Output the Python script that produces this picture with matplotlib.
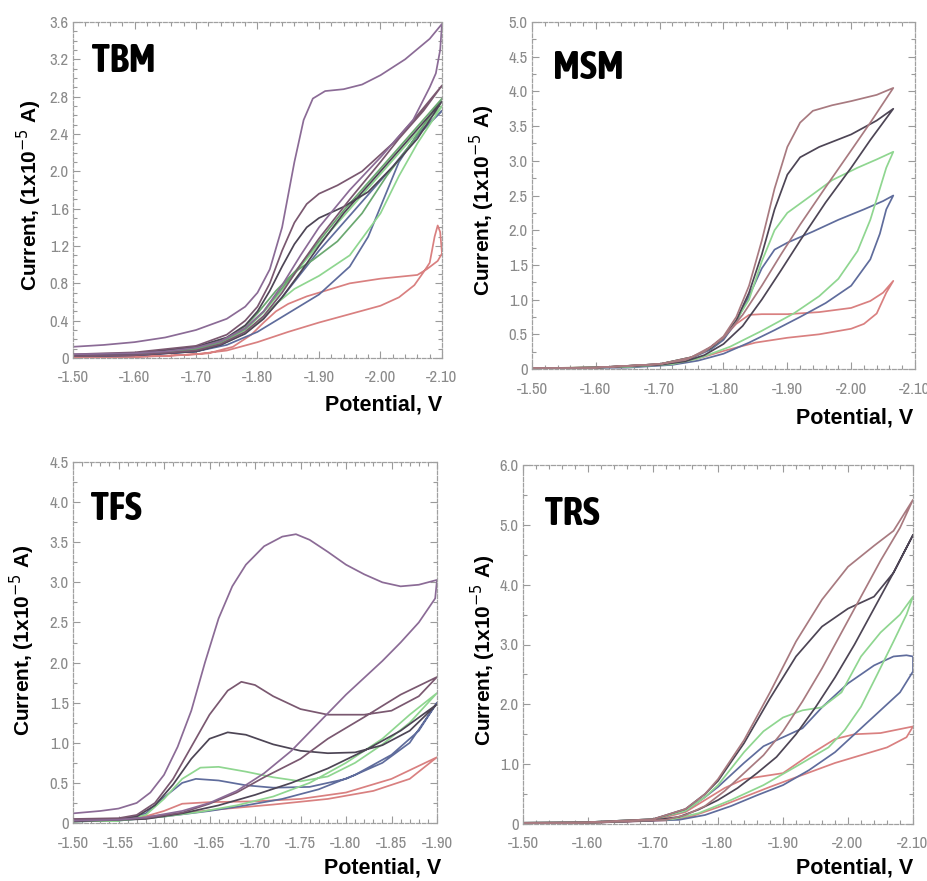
import matplotlib
matplotlib.use('Agg')
import matplotlib.pyplot as plt
from matplotlib.ticker import MultipleLocator

W, H = 928, 881

# ---- colours of the scan traces
PURPLE = '#8b6b96'
PLUM = '#7a5870'
DARK = '#4d4555'
GREEN = '#8fd690'
GREEN2 = '#6aa870'
BLUE = '#5f6c9c'
RED = '#d98080'
BROWN = '#a87a80'

# ---- TBM (forward sweep then reverse sweep, potential in V, current in 1e-5 A)
tbm_purple_v = [-1.50, -1.55, -1.60, -1.65, -1.70, -1.75, -1.78, -1.80, -1.82, -1.84, -1.86, -1.875, -1.89,
                -1.91, -1.94, -1.97, -2.00, -2.04, -2.08, -2.10,
                -2.097, -2.09, -2.08, -2.053, -2.00, -1.95, -1.90, -1.87, -1.84, -1.81, -1.78, -1.74,
                -1.70, -1.65, -1.60, -1.50]
tbm_purple_i = [0.12, 0.14, 0.17, 0.22, 0.30, 0.42, 0.55, 0.70, 0.95, 1.40, 2.10, 2.55, 2.78,
                2.86, 2.88, 2.93, 3.03, 3.20, 3.42, 3.58,
                3.30, 3.05, 2.90, 2.55, 2.15, 1.80, 1.40, 1.10, 0.78, 0.50, 0.32, 0.18,
                0.11, 0.07, 0.05, 0.04]
tbm_plum_v = [-1.50, -1.60, -1.70, -1.75, -1.78, -1.80, -1.82, -1.84, -1.86, -1.88, -1.90, -1.93, -1.97,
              -2.02, -2.06, -2.10,
              -2.07, -2.03, -2.00, -1.95, -1.90, -1.87, -1.84, -1.81, -1.78, -1.74, -1.70, -1.60, -1.50]
tbm_plum_i = [0.04, 0.06, 0.13, 0.25, 0.40, 0.55, 0.80, 1.15, 1.45, 1.65, 1.76, 1.85, 2.00,
              2.30, 2.60, 2.92,
              2.65, 2.35, 2.10, 1.70, 1.28, 1.00, 0.70, 0.45, 0.28, 0.15, 0.08, 0.03, 0.02]
tbm_dark_v = [-1.50, -1.60, -1.70, -1.75, -1.78, -1.80, -1.82, -1.84, -1.86, -1.88, -1.90, -1.94, -1.98,
              -2.02, -2.06, -2.10,
              -2.06, -2.02, -1.98, -1.94, -1.90, -1.87, -1.84, -1.81, -1.78, -1.74, -1.70, -1.60, -1.50]
tbm_dark_i = [0.03, 0.05, 0.12, 0.22, 0.35, 0.50, 0.72, 0.98, 1.22, 1.40, 1.50, 1.62, 1.78,
              2.05, 2.35, 2.75,
              2.45, 2.15, 1.85, 1.55, 1.20, 0.92, 0.65, 0.42, 0.26, 0.14, 0.07, 0.03, 0.02]
tbm_green_v = [-1.50, -1.60, -1.70, -1.75, -1.78, -1.80, -1.83, -1.86, -1.90, -1.95, -2.00, -2.03, -2.06,
               -2.08, -2.10,
               -2.06, -2.02, -1.98, -1.94, -1.90, -1.87, -1.84, -1.81, -1.78, -1.74, -1.70, -1.60, -1.50]
tbm_green_i = [0.02, 0.04, 0.09, 0.17, 0.27, 0.38, 0.58, 0.74, 0.88, 1.10, 1.55, 1.95, 2.30,
               2.50, 2.70,
               2.42, 2.12, 1.82, 1.52, 1.22, 0.98, 0.73, 0.49, 0.30, 0.16, 0.09, 0.04, 0.03]
tbm_green2_v = [-1.50, -1.60, -1.70, -1.75, -1.78, -1.80, -1.83, -1.86, -1.89, -1.93, -1.97, -2.01, -2.05,
                -2.10,
                -2.06, -2.02, -1.98, -1.94, -1.90, -1.87, -1.84, -1.81, -1.78, -1.74, -1.70, -1.60, -1.50]
tbm_green2_i = [0.03, 0.05, 0.11, 0.21, 0.34, 0.48, 0.72, 0.92, 1.05, 1.25, 1.55, 1.95, 2.30,
                2.78,
                2.48, 2.18, 1.88, 1.58, 1.25, 1.00, 0.75, 0.50, 0.31, 0.17, 0.09, 0.04, 0.03]
tbm_blue_v = [-1.50, -1.60, -1.70, -1.75, -1.80, -1.85, -1.90, -1.95, -1.98, -2.00, -2.03, -2.06, -2.10,
              -2.06, -2.02, -1.98, -1.94, -1.90, -1.87, -1.84, -1.81, -1.78, -1.74, -1.70, -1.60, -1.50]
tbm_blue_i = [0.02, 0.03, 0.07, 0.14, 0.28, 0.48, 0.68, 0.98, 1.30, 1.62, 2.10, 2.40, 2.65,
              2.38, 2.05, 1.75, 1.45, 1.15, 0.90, 0.65, 0.43, 0.27, 0.14, 0.07, 0.03, 0.02]
tbm_red_v = [-1.50, -1.60, -1.70, -1.75, -1.80, -1.85, -1.90, -1.95, -2.00, -2.03, -2.055, -2.07, -2.08,
             -2.088, -2.093, -2.097, -2.10,
             -2.093, -2.085, -2.075, -2.06, -2.00, -1.95, -1.92, -1.88, -1.85, -1.83, -1.81, -1.79,
             -1.76, -1.72, -1.65, -1.50]
tbm_red_i = [0.00, 0.01, 0.04, 0.08, 0.17, 0.28, 0.38, 0.47, 0.56, 0.65, 0.78, 0.92, 1.02,
             1.30, 1.42, 1.35, 1.12,
             1.04, 1.00, 0.95, 0.89, 0.85, 0.80, 0.74, 0.66, 0.58, 0.50, 0.38, 0.25,
             0.12, 0.05, 0.02, 0.01]

# ---- MSM
msm_brown_v = [-1.50, -1.60, -1.70, -1.75, -1.78, -1.80, -1.82, -1.84, -1.86, -1.88, -1.90, -1.92, -1.94,
               -1.97, -2.00, -2.04, -2.066,
               -2.03, -2.00, -1.96, -1.92, -1.89, -1.86, -1.83, -1.80, -1.77, -1.74, -1.70, -1.60, -1.50]
msm_brown_i = [0.01, 0.02, 0.07, 0.17, 0.32, 0.47, 0.75, 1.20, 1.85, 2.60, 3.20, 3.55, 3.72,
               3.80, 3.86, 3.95, 4.05,
               3.55, 3.15, 2.62, 2.08, 1.65, 1.20, 0.78, 0.45, 0.25, 0.13, 0.07, 0.02, 0.01]
msm_dark_v = [-1.50, -1.60, -1.70, -1.75, -1.78, -1.80, -1.82, -1.84, -1.86, -1.88, -1.90, -1.92, -1.95,
              -2.00, -2.04, -2.066,
              -2.03, -2.00, -1.96, -1.92, -1.89, -1.86, -1.83, -1.80, -1.77, -1.74, -1.70, -1.60, -1.50]
msm_dark_i = [0.01, 0.02, 0.07, 0.17, 0.30, 0.45, 0.70, 1.10, 1.65, 2.30, 2.80, 3.05, 3.20,
              3.38, 3.58, 3.75,
              3.30, 2.90, 2.40, 1.85, 1.42, 1.00, 0.62, 0.36, 0.20, 0.11, 0.06, 0.02, 0.01]
msm_green_v = [-1.50, -1.60, -1.70, -1.75, -1.78, -1.80, -1.82, -1.84, -1.86, -1.88, -1.90, -1.93, -1.97,
               -2.01, -2.04, -2.066,
               -2.055, -2.045, -2.03, -2.01, -1.98, -1.95, -1.91, -1.86, -1.81, -1.76, -1.72, -1.65, -1.50]
msm_green_i = [0.01, 0.02, 0.07, 0.17, 0.30, 0.45, 0.70, 1.00, 1.55, 2.00, 2.25, 2.45, 2.72,
               2.90, 3.02, 3.13,
               2.90, 2.60, 2.15, 1.70, 1.30, 1.05, 0.80, 0.55, 0.32, 0.15, 0.07, 0.03, 0.01]
msm_blue_v = [-1.50, -1.60, -1.70, -1.75, -1.78, -1.80, -1.82, -1.84, -1.86, -1.88, -1.90, -1.94, -1.98,
              -2.02, -2.05, -2.066,
              -2.055, -2.045, -2.03, -2.00, -1.96, -1.92, -1.88, -1.84, -1.80, -1.76, -1.72, -1.65, -1.50]
msm_blue_i = [0.01, 0.02, 0.07, 0.16, 0.28, 0.42, 0.68, 1.05, 1.45, 1.72, 1.82, 1.98, 2.15,
              2.30, 2.42, 2.50,
              2.30, 1.95, 1.58, 1.20, 0.95, 0.75, 0.56, 0.38, 0.22, 0.12, 0.06, 0.02, 0.01]
msm_red_v = [-1.50, -1.60, -1.70, -1.75, -1.78, -1.80, -1.82, -1.84, -1.86, -1.90, -1.95, -2.00, -2.03,
             -2.05, -2.066,
             -2.055, -2.04, -2.02, -2.00, -1.95, -1.90, -1.85, -1.80, -1.76, -1.72, -1.65, -1.50]
msm_red_i = [0.01, 0.02, 0.07, 0.16, 0.30, 0.45, 0.65, 0.78, 0.79, 0.79, 0.82, 0.88, 0.98,
             1.10, 1.27,
             1.10, 0.80, 0.65, 0.58, 0.50, 0.45, 0.38, 0.26, 0.15, 0.07, 0.03, 0.01]

# ---- TFS
tfs_purple_v = [-1.50, -1.53, -1.55, -1.57, -1.585, -1.60, -1.615, -1.63, -1.645, -1.66, -1.675, -1.69,
                -1.71, -1.73, -1.745, -1.76, -1.78, -1.80, -1.82, -1.84, -1.86, -1.88, -1.90,
                -1.898, -1.88, -1.86, -1.84, -1.80, -1.77, -1.74, -1.71, -1.68, -1.65, -1.62, -1.58,
                -1.55, -1.50]
tfs_purple_i = [0.12, 0.15, 0.18, 0.25, 0.38, 0.60, 0.95, 1.40, 2.00, 2.55, 2.95, 3.22,
                3.45, 3.57, 3.60, 3.53, 3.38, 3.22, 3.10, 3.00, 2.95, 2.97, 3.03,
                2.80, 2.50, 2.25, 2.02, 1.60, 1.25, 0.90, 0.62, 0.40, 0.25, 0.15, 0.07,
                0.04, 0.03]
tfs_plum_v = [-1.50, -1.55, -1.57, -1.59, -1.61, -1.63, -1.65, -1.67, -1.685, -1.70, -1.72, -1.75, -1.78,
              -1.82, -1.85, -1.88, -1.90,
              -1.86, -1.82, -1.78, -1.75, -1.71, -1.68, -1.65, -1.62, -1.58, -1.50]
tfs_plum_i = [0.05, 0.06, 0.10, 0.25, 0.55, 0.95, 1.35, 1.65, 1.76, 1.72, 1.58, 1.42, 1.35,
              1.35, 1.40, 1.58, 1.82,
              1.60, 1.32, 1.05, 0.80, 0.57, 0.38, 0.24, 0.13, 0.06, 0.03]
tfs_dark_v = [-1.50, -1.55, -1.57, -1.59, -1.61, -1.63, -1.65, -1.67, -1.69, -1.72, -1.75, -1.78, -1.81,
              -1.84, -1.87, -1.90,
              -1.86, -1.82, -1.78, -1.74, -1.70, -1.66, -1.62, -1.58, -1.50]
tfs_dark_i = [0.04, 0.05, 0.08, 0.22, 0.48, 0.80, 1.05, 1.13, 1.10, 0.98, 0.90, 0.87, 0.88,
              0.97, 1.15, 1.48,
              1.15, 0.90, 0.68, 0.50, 0.35, 0.22, 0.12, 0.05, 0.02]
tfs_green_v = [-1.50, -1.55, -1.58, -1.60, -1.62, -1.64, -1.66, -1.69, -1.72, -1.75, -1.78, -1.81, -1.84,
               -1.87, -1.90,
               -1.87, -1.84, -1.80, -1.76, -1.72, -1.68, -1.64, -1.60, -1.55, -1.50]
tfs_green_i = [0.02, 0.03, 0.10, 0.30, 0.55, 0.69, 0.70, 0.64, 0.57, 0.52, 0.58, 0.75, 0.98,
               1.25, 1.62,
               1.35, 1.05, 0.75, 0.50, 0.33, 0.22, 0.14, 0.08, 0.03, 0.02]
tfs_blue_v = [-1.50, -1.55, -1.58, -1.60, -1.62, -1.635, -1.66, -1.69, -1.72, -1.76, -1.80, -1.84, -1.87,
              -1.90,
              -1.88, -1.85, -1.81, -1.77, -1.73, -1.69, -1.65, -1.60, -1.55, -1.50]
tfs_blue_i = [0.02, 0.03, 0.12, 0.32, 0.50, 0.55, 0.53, 0.47, 0.44, 0.45, 0.55, 0.75, 1.00,
              1.50,
              1.15, 0.85, 0.60, 0.42, 0.30, 0.22, 0.15, 0.08, 0.03, 0.02]
tfs_red_v = [-1.50, -1.57, -1.60, -1.62, -1.65, -1.70, -1.75, -1.80, -1.85, -1.90,
             -1.87, -1.83, -1.78, -1.72, -1.66, -1.60, -1.55, -1.50]
tfs_red_i = [0.03, 0.05, 0.15, 0.24, 0.26, 0.27, 0.30, 0.38, 0.55, 0.82,
             0.55, 0.40, 0.30, 0.23, 0.17, 0.10, 0.04, 0.02]

# ---- TRS
trs_brown_v = [-1.50, -1.60, -1.70, -1.75, -1.78, -1.80, -1.84, -1.88, -1.92, -1.96, -2.00, -2.04, -2.07,
               -2.10,
               -2.08, -2.05, -2.02, -1.99, -1.96, -1.93, -1.90, -1.87, -1.84, -1.81, -1.78, -1.75,
               -1.72, -1.60, -1.50]
trs_brown_i = [0.02, 0.03, 0.08, 0.25, 0.50, 0.75, 1.40, 2.20, 3.05, 3.75, 4.30, 4.65, 4.90,
               5.42,
               4.95, 4.40, 3.80, 3.20, 2.60, 2.05, 1.55, 1.15, 0.85, 0.55, 0.30, 0.15,
               0.07, 0.02, 0.01]
trs_dark_v = [-1.50, -1.60, -1.70, -1.75, -1.78, -1.80, -1.84, -1.88, -1.92, -1.96, -2.00, -2.04, -2.07,
              -2.10,
              -2.07, -2.04, -2.01, -1.98, -1.95, -1.92, -1.89, -1.86, -1.83, -1.80, -1.77, -1.74,
              -1.70, -1.60, -1.50]
trs_dark_i = [0.02, 0.03, 0.08, 0.25, 0.50, 0.72, 1.35, 2.10, 2.80, 3.30, 3.60, 3.80, 4.20,
              4.83,
              4.20, 3.60, 3.00, 2.45, 1.95, 1.50, 1.12, 0.85, 0.60, 0.40, 0.24, 0.12,
              0.06, 0.02, 0.01]
trs_green_v = [-1.50, -1.60, -1.70, -1.75, -1.78, -1.80, -1.84, -1.87, -1.90, -1.93, -1.96, -1.99, -2.02,
               -2.05, -2.08, -2.10,
               -2.09, -2.07, -2.045, -2.02, -1.995, -1.97, -1.92, -1.87, -1.82, -1.77, -1.73, -1.60, -1.50]
trs_green_i = [0.02, 0.03, 0.08, 0.22, 0.45, 0.65, 1.20, 1.55, 1.78, 1.90, 1.95, 2.20, 2.80,
               3.20, 3.50, 3.80,
               3.50, 3.05, 2.50, 1.96, 1.57, 1.28, 0.96, 0.65, 0.40, 0.18, 0.08, 0.02, 0.01]
trs_blue_v = [-1.50, -1.60, -1.70, -1.75, -1.78, -1.80, -1.84, -1.87, -1.90, -1.93, -1.96, -2.00, -2.04,
              -2.07, -2.09, -2.10,
              -2.10, -2.08, -2.05, -2.02, -1.98, -1.94, -1.90, -1.86, -1.82, -1.78, -1.74, -1.60, -1.50]
trs_blue_i = [0.02, 0.03, 0.08, 0.22, 0.45, 0.62, 1.02, 1.30, 1.45, 1.60, 1.95, 2.35, 2.65,
              2.80, 2.82, 2.80,
              2.55, 2.20, 1.90, 1.60, 1.20, 0.90, 0.65, 0.48, 0.30, 0.15, 0.07, 0.02, 0.01]
trs_red_v = [-1.50, -1.60, -1.70, -1.75, -1.78, -1.81, -1.84, -1.87, -1.90, -1.94, -1.98, -2.01, -2.05,
             -2.10,
             -2.09, -2.06, -2.02, -1.98, -1.93, -1.88, -1.84, -1.80, -1.76, -1.72, -1.60, -1.50]
trs_red_i = [0.01, 0.02, 0.06, 0.20, 0.40, 0.60, 0.75, 0.80, 0.85, 1.15, 1.42, 1.50, 1.52,
             1.63,
             1.45, 1.28, 1.15, 1.02, 0.82, 0.62, 0.45, 0.28, 0.13, 0.06, 0.02, 0.01]

tbm_ticks_y = [0, 0.4, 0.8, 1.2, 1.6, 2.0, 2.4, 2.8, 3.2, 3.6]
tbm_labels_y = ['0', '0.4', '0.8', '1.2', '1.6', '2.0', '2.4', '2.8', '3.2', '3.6']
msm_ticks_y = [0, 0.5, 1.0, 1.5, 2.0, 2.5, 3.0, 3.5, 4.0, 4.5, 5.0]
msm_labels_y = ['0', '0.5', '1.0', '1.5', '2.0', '2.5', '3.0', '3.5', '4.0', '4.5', '5.0']
tfs_ticks_y = [0, 0.5, 1.0, 1.5, 2.0, 2.5, 3.0, 3.5, 4.0, 4.5]
tfs_labels_y = ['0', '0.5', '1.0', '1.5', '2.0', '2.5', '3.0', '3.5', '4.0', '4.5']
trs_ticks_y = [0, 1.0, 2.0, 3.0, 4.0, 5.0, 6.0]
trs_labels_y = ['0', '1.0', '2.0', '3.0', '4.0', '5.0', '6.0']
wide_ticks_x = [-1.50, -1.60, -1.70, -1.80, -1.90, -2.00, -2.10]
wide_labels_x = ['-1.50', '-1.60', '-1.70', '-1.80', '-1.90', '-2.00', '-2.10']
tfs_ticks_x = [-1.50, -1.55, -1.60, -1.65, -1.70, -1.75, -1.80, -1.85, -1.90]
tfs_labels_x = ['-1.50', '-1.55', '-1.60', '-1.65', '-1.70', '-1.75', '-1.80', '-1.85', '-1.90']

NARROW = ['Archivo Narrow', 'Liberation Sans', 'DejaVu Sans']
HEAVY = ['Asap Condensed', 'Barlow Condensed', 'Liberation Sans', 'DejaVu Sans']
BOLD = ['Liberation Sans', 'DejaVu Sans']


def box(l, r, t, b):
    return [l / W, 1 - b / H, (r - l) / W, (b - t) / H]


def fpt(x, y):
    return x / W, 1 - y / H


panels = [
    dict(name='TBM', rect=box(73, 442, 22, 358), xlim=(-1.50, -2.10), xt=wide_ticks_x, xl=wide_labels_x,
         xminor=0.02, ylim=(0, 3.6), yt=tbm_ticks_y, yl=tbm_labels_y, yminor=0.1,
         title=(92, 61), ylab=(29, 195), xlab=(442, 405),
         curves=[(tbm_red_v, tbm_red_i, RED), (tbm_blue_v, tbm_blue_i, BLUE),
                 (tbm_green_v, tbm_green_i, GREEN), (tbm_green2_v, tbm_green2_i, GREEN2),
                 (tbm_dark_v, tbm_dark_i, DARK), (tbm_plum_v, tbm_plum_i, PLUM),
                 (tbm_purple_v, tbm_purple_i, PURPLE)]),
    dict(name='MSM', rect=box(532, 915, 22, 369), xlim=(-1.50, -2.10), xt=wide_ticks_x, xl=wide_labels_x,
         xminor=0.02, ylim=(0, 5.0), yt=msm_ticks_y, yl=msm_labels_y, yminor=0.25,
         title=(553, 68), ylab=(482, 200), xlab=(913, 418),
         curves=[(msm_red_v, msm_red_i, RED), (msm_blue_v, msm_blue_i, BLUE),
                 (msm_green_v, msm_green_i, GREEN), (msm_dark_v, msm_dark_i, DARK),
                 (msm_brown_v, msm_brown_i, BROWN)]),
    dict(name='TFS', rect=box(73, 437, 462, 823), xlim=(-1.50, -1.90), xt=tfs_ticks_x, xl=tfs_labels_x,
         xminor=0.01, ylim=(0, 4.5), yt=tfs_ticks_y, yl=tfs_labels_y, yminor=0.25,
         title=(91, 509), ylab=(22, 640), xlab=(441, 868),
         curves=[(tfs_red_v, tfs_red_i, RED), (tfs_blue_v, tfs_blue_i, BLUE),
                 (tfs_green_v, tfs_green_i, GREEN), (tfs_dark_v, tfs_dark_i, DARK),
                 (tfs_plum_v, tfs_plum_i, PLUM), (tfs_purple_v, tfs_purple_i, PURPLE)]),
    dict(name='TRS', rect=box(523, 913, 465, 824), xlim=(-1.50, -2.10), xt=wide_ticks_x, xl=wide_labels_x,
         xminor=0.02, ylim=(0, 6.0), yt=trs_ticks_y, yl=trs_labels_y, yminor=0.5,
         title=(545, 514), ylab=(483, 650), xlab=(913, 868),
         curves=[(trs_red_v, trs_red_i, RED), (trs_blue_v, trs_blue_i, BLUE),
                 (trs_green_v, trs_green_i, GREEN), (trs_dark_v, trs_dark_i, DARK),
                 (trs_brown_v, trs_brown_i, BROWN)]),
]

fig = plt.figure(figsize=(W / 100, H / 100), dpi=100)

for p in panels:
    ax = fig.add_axes(p['rect'])
    for v, i, c in p['curves']:
        ax.plot(v, i, color=c, lw=1.25, solid_joinstyle='round')
    ax.set_xlim(*p['xlim'])
    ax.set_ylim(*p['ylim'])
    ax.set_xticks(p['xt'])
    ax.set_xticklabels(p['xl'])
    ax.set_yticks(p['yt'])
    ax.set_yticklabels(p['yl'])
    ax.xaxis.set_minor_locator(MultipleLocator(p['xminor']))
    ax.yaxis.set_minor_locator(MultipleLocator(p['yminor']))
    ax.tick_params(which='both', direction='in', top=True, right=True, color='#9a9a9a', width=0.8)
    ax.tick_params(which='major', length=5)
    ax.tick_params(which='minor', length=3)
    ax.tick_params(axis='x', pad=9, labelsize=12, labelcolor='#8a8a8a')
    ax.tick_params(axis='y', pad=3, labelsize=12, labelcolor='#8a8a8a')
    for lab in ax.get_xticklabels() + ax.get_yticklabels():
        lab.set_family(NARROW)
    for s in ax.spines.values():
        s.set_color('#a0a0a0')
        s.set_linewidth(0.9)
        s.set_linestyle((0, (3, 1.5)))

    x, y = fpt(*p['title'])
    fig.text(x, y, p['name'], fontsize=29, fontweight='bold', family=HEAVY, ha='left', va='center')
    x, y = fpt(*p['ylab'])
    fig.text(x, y, 'Current, (1x10$^{-5}$ A)', fontsize=15, fontweight='bold', family=BOLD,
             rotation=90, ha='center', va='center')
    x, y = fpt(*p['xlab'])
    fig.text(x, y, 'Potential, V', fontsize=15.5, fontweight='bold', family=BOLD, ha='right', va='center')

fig.savefig('out.png', dpi=100, facecolor='white')
